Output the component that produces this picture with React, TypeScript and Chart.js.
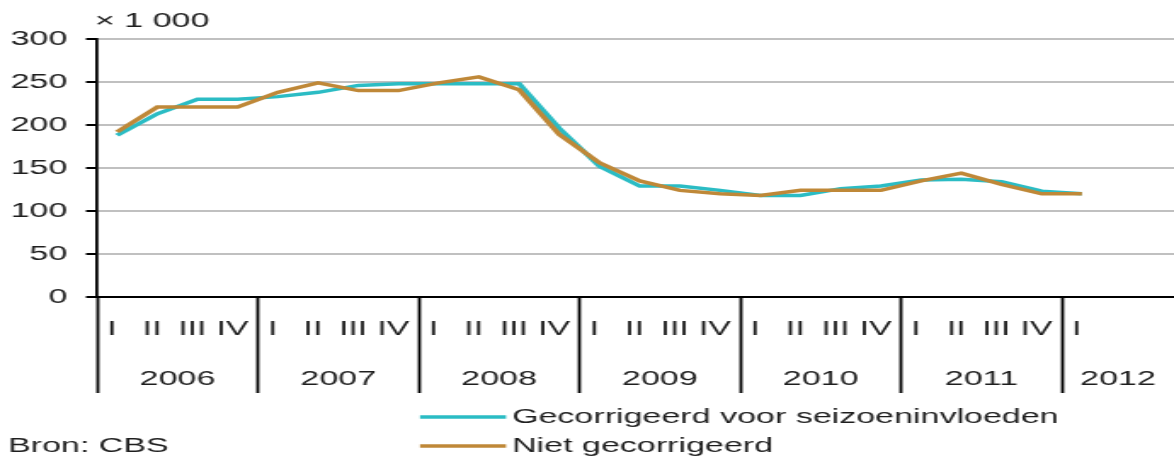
import React, { useEffect, useRef } from 'react';
import { Chart, registerables } from 'chart.js';

Chart.register(...registerables);

// ---- data ----
const quarterLabels = [
  'I', 'II', 'III', 'IV',
  'I', 'II', 'III', 'IV',
  'I', 'II', 'III', 'IV',
  'I', 'II', 'III', 'IV',
  'I', 'II', 'III', 'IV',
  'I', 'II', 'III', 'IV',
  'I',
];
const yearLabels = ['2006', '2007', '2008', '2009', '2010', '2011', '2012'];
const gecorrigeerd = [
  188, 213, 230, 230,
  233, 238, 246, 248,
  248, 248, 248, 196,
  152, 129, 129, 124,
  118, 118, 126, 129,
  136, 137, 134, 123,
  120,
];
const nietGecorrigeerd = [
  192, 221, 221, 221,
  238, 249, 240, 240,
  249, 256, 241, 189,
  156, 135, 124, 120,
  118, 124, 124, 124,
  135, 144, 131, 120,
  120,
];
const yTicks = [0, 50, 100, 150, 200, 250, 300];
const seriesNames = ['Gecorrigeerd voor seizoeninvloeden', 'Niet gecorrigeerd'];
const seriesColors = ['#2bbcc4', '#bf8838'];
const unitLabel = '× 1 000';
const sourceLabel = 'Bron: CBS';

// ---- layout ----
const DISPLAY_W = 1174;
const H = 457;
const W_INT = 690; // canvas drawn narrower, stretched horizontally like the reference
const S = DISPLAY_W / W_INT;
const px = (x: number) => x / S;
const FONT = "'Liberation Sans', Arial, sans-serif";
const TEXT_COLOR = '#1e1e1e';
const X_MIN = -0.5;
const X_MAX = 26.29;
const QUARTER_LABEL_SHIFT = -0.13;

const noSidePadding = (h: number) => (s: any) => {
  s.height = h;
  s.paddingLeft = 0;
  s.paddingRight = 0;
};

const extraText = {
  id: 'extraText',
  afterDraw(chart: any) {
    const { ctx } = chart;
    ctx.save();
    ctx.font = `20px ${FONT}`;
    ctx.fillStyle = TEXT_COLOR;
    ctx.textBaseline = 'middle';
    ctx.textAlign = 'left';
    ctx.fillText(unitLabel, px(95), 21);
    ctx.fillText(sourceLabel, px(8), 446);
    const rows = [417, 446];
    chart.data.datasets.forEach((ds: any, i: number) => {
      const y = rows[i];
      ctx.strokeStyle = ds.borderColor;
      ctx.lineWidth = 3.5;
      ctx.beginPath();
      ctx.moveTo(px(420), y);
      ctx.lineTo(px(506), y);
      ctx.stroke();
      ctx.fillText(ds.label, px(512), y);
    });
    ctx.restore();
  },
};

export default function App() {
  const ref = useRef<HTMLCanvasElement>(null);

  useEffect(() => {
    if (!ref.current) return;
    const labelFont = { family: FONT, size: 20 };
    const chart = new Chart(ref.current, {
      type: 'line',
      data: {
        datasets: [
          {
            label: seriesNames[0],
            data: gecorrigeerd.map((v, i) => ({ x: i, y: v })),
            borderColor: seriesColors[0],
            backgroundColor: seriesColors[0],
            borderWidth: 3.5,
            pointRadius: 0,
            tension: 0,
            order: 1,
            xAxisID: 'x',
            yAxisID: 'y',
          },
          {
            label: seriesNames[1],
            data: nietGecorrigeerd.map((v, i) => ({ x: i, y: v })),
            borderColor: seriesColors[1],
            backgroundColor: seriesColors[1],
            borderWidth: 3.5,
            pointRadius: 0,
            tension: 0,
            order: 0,
            xAxisID: 'x',
            yAxisID: 'y',
          },
        ],
      },
      options: {
        responsive: false,
        animation: false,
        devicePixelRatio: 1,
        layout: { padding: { top: 39, bottom: 58, left: 0, right: 0 } },
        plugins: {
          legend: { display: false },
          tooltip: { enabled: false },
          title: { display: false },
        },
        scales: {
          x: {
            type: 'linear',
            position: 'bottom',
            weight: 1,
            min: X_MIN,
            max: X_MAX,
            afterFit: noSidePadding(0),
            afterBuildTicks: (s: any) => {
              s.ticks = yearLabels.map((_, k) => ({ value: X_MIN + 4 * k }));
            },
            ticks: { display: false },
            grid: {
              drawOnChartArea: false,
              drawTicks: true,
              tickLength: 96,
              tickColor: '#000',
              tickWidth: 1.8,
            },
            border: { display: true, color: '#000', width: 2 },
          },
          xq: {
            type: 'linear',
            position: 'bottom',
            weight: 2,
            min: X_MIN,
            max: X_MAX,
            afterFit: noSidePadding(52),
            afterBuildTicks: (s: any) => {
              s.ticks = quarterLabels.map((_, i) => ({ value: i + QUARTER_LABEL_SHIFT }));
            },
            ticks: {
              autoSkip: false,
              maxRotation: 0,
              padding: 20,
              color: TEXT_COLOR,
              font: labelFont,
              callback: (v: any) => quarterLabels[Math.round(v - QUARTER_LABEL_SHIFT)],
            },
            grid: { display: false, drawTicks: false },
            border: { display: false },
          },
          xy: {
            type: 'linear',
            position: 'bottom',
            weight: 3,
            min: X_MIN,
            max: X_MAX,
            afterFit: noSidePadding(50),
            afterBuildTicks: (s: any) => {
              s.ticks = yearLabels.map((_, k) => {
                const start = X_MIN + 4 * k;
                const end = Math.min(start + 4, X_MAX);
                return { value: (start + end) / 2 };
              });
            },
            ticks: {
              autoSkip: false,
              maxRotation: 0,
              padding: 18,
              color: TEXT_COLOR,
              font: labelFont,
              callback: (v: any) => yearLabels[Math.floor((v - X_MIN) / 4)],
            },
            grid: { display: false, drawTicks: false },
            border: { display: false },
          },
          y: {
            position: 'left',
            min: 0,
            max: 300,
            afterFit: (s: any) => { s.width = px(97); },
            afterBuildTicks: (s: any) => {
              s.ticks = yTicks.map((v) => ({ value: v }));
            },
            ticks: {
              padding: 11,
              color: TEXT_COLOR,
              font: labelFont,
              callback: (v: any) => String(v),
            },
            grid: {
              color: (c: any) => (c.tick && c.tick.value === 0 ? 'rgba(0,0,0,0)' : '#c0c0c0'),
              lineWidth: 2,
              tickColor: '#000',
              tickLength: 6.5,
              tickWidth: 2,
            },
            border: { display: true, color: '#000', width: 1.8 },
          },
        },
      },
      plugins: [extraText],
    } as any);
    return () => chart.destroy();
  }, []);

  return (
    <div style={{ position: 'fixed', left: 0, top: 0, width: DISPLAY_W, height: H, background: '#fff' }}>
      <canvas
        ref={ref}
        width={W_INT}
        height={H}
        style={{ width: `${DISPLAY_W}px`, height: `${H}px`, display: 'block' }}
      />
    </div>
  );
}
